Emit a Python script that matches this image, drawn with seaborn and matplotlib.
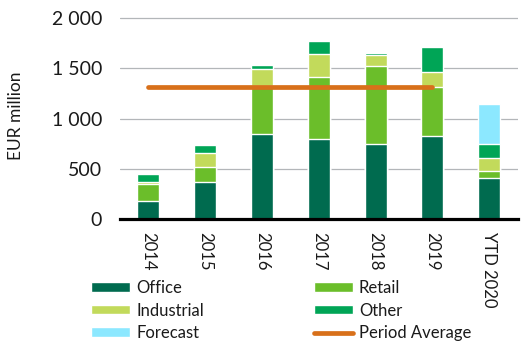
import matplotlib
matplotlib.use("Agg")
import matplotlib.pyplot as plt
import seaborn as sns
import numpy as np
import pandas as pd
from matplotlib.patches import Patch
from matplotlib.lines import Line2D
from matplotlib.ticker import FuncFormatter

years = ["2014", "2015", "2016", "2017", "2018", "2019", "YTD 2020"]
office = [180, 375, 850, 795, 745, 830, 415]
retail = [170, 140, 470, 615, 780, 480, 62]
industrial = [25, 145, 170, 230, 105, 150, 130]
other = [80, 80, 40, 135, 25, 250, 145]
forecast = [np.nan, np.nan, np.nan, np.nan, np.nan, np.nan, 395]
period_average = 1310
avg_span = ["2014", "2019"]

colors = {
    "Office": "#006B4F",
    "Retail": "#6BBE2A",
    "Industrial": "#C2DA5B",
    "Other": "#00A556",
    "Forecast": "#8CE8FF",
    "Period Average": "#D8701A",
}

sns.set_theme(style="white")
plt.rcParams["font.family"] = ["Lato", "DejaVu Sans"]

fig = plt.figure(figsize=(5.22, 3.44), dpi=100)
ax = fig.add_axes([120 / 522, 1 - 219.3 / 344, 397.6 / 522, (219.3 - 13.0) / 344])

series = [("Office", office), ("Retail", retail), ("Industrial", industrial),
          ("Other", other), ("Forecast", forecast)]
cum = np.zeros(len(years))
layers = []
for name, vals in series:
    v = np.array(vals, dtype=float)
    top = cum + np.nan_to_num(v)
    layers.append((name, np.where(np.isnan(v), np.nan, top)))
    cum = top

for name, tops in reversed(layers):
    df = pd.DataFrame({"year": years, "value": tops})
    sns.barplot(data=df, x="year", y="value", order=years, color=colors[name],
                width=0.39, edgecolor="white", linewidth=1.0, saturation=1,
                ax=ax, zorder=2)

xpos = [years.index(y) for y in avg_span]
ax.plot(xpos, [period_average, period_average], color=colors["Period Average"],
        lw=3.4, solid_capstyle="round", zorder=3)

ax.set_xlim(-0.5, len(years) - 0.5)
ax.set_ylim(0, 2050)
ax.set_yticks([0, 500, 1000, 1500, 2000])
ax.yaxis.set_major_formatter(FuncFormatter(lambda v, p: f"{int(v):,}".replace(",", " ")))
ax.grid(axis="y", color="#B3B6B9", lw=0.9, zorder=0)
ax.grid(axis="x", visible=False)
for s in ["left", "right", "top"]:
    ax.spines[s].set_visible(False)
ax.spines["bottom"].set_color("black")
ax.spines["bottom"].set_linewidth(2.3)
ax.spines["bottom"].set_zorder(5)
ax.tick_params(axis="y", length=0, pad=13, labelsize=14, labelcolor="#1a1a1a")
ax.tick_params(axis="x", length=0, pad=9, labelsize=12, labelcolor="#1a1a1a")
for lbl in ax.get_xticklabels():
    lbl.set_rotation(270)
    lbl.set_ha("center")
    lbl.set_va("top")
ax.set_xlabel("")
ax.set_ylabel("EUR million", fontsize=12.5, color="#1a1a1a")
ax.yaxis.set_label_coords((24 - 120) / 397.6, 0.5)

handles = [
    Patch(facecolor=colors["Office"], label="Office"),
    Patch(facecolor=colors["Industrial"], label="Industrial"),
    Patch(facecolor=colors["Forecast"], label="Forecast"),
    Patch(facecolor=colors["Retail"], label="Retail"),
    Patch(facecolor=colors["Other"], label="Other"),
    Line2D([0], [0], color=colors["Period Average"], lw=3.4, solid_capstyle="round",
           label="Period Average"),
]
fig.legend(handles=handles, ncol=2, loc="upper left",
           bbox_to_anchor=(91 / 522, 1 - 280 / 344), frameon=False,
           fontsize=12, borderpad=0, borderaxespad=0, handlelength=2.34,
           handleheight=0.48, handletextpad=0.36, columnspacing=6.6,
           labelspacing=0.39, labelcolor="#1a1a1a")

fig.savefig("out.png", dpi=100)
